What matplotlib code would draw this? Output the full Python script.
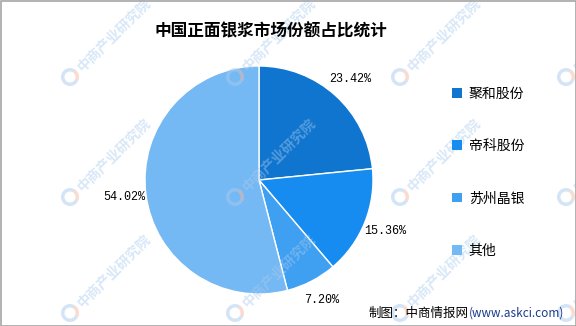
import matplotlib
matplotlib.use("Agg")
import matplotlib.pyplot as plt
from matplotlib.patches import Rectangle, Patch, Wedge

plt.rcParams['font.family'] = ['Noto Sans CJK SC', 'DejaVu Sans']

title = "中国正面银浆市场份额占比统计"
categories = ["聚和股份", "帝科股份", "苏州晶银", "其他"]
shares = [23.42, 15.36, 7.20, 54.02]
colors = ["#1075cf", "#168cf0", "#3f9ff1", "#74b8f4"]
source_cn = "制图：中商情报网"
source_url = "(www.askci.com)"
watermark = "中商产业研究院"

W, H = 576, 326
fig = plt.figure(figsize=(W / 100, H / 100), dpi=100)
fig.patch.set_facecolor("white")

# pie axes: center (259,180) radius 114 px
cx, cy, r = 259, 180, 114
ax = fig.add_axes([(cx - r) / W, (H - cy - r) / H, 2 * r / W, 2 * r / H])
wedges, texts = ax.pie(shares, colors=colors, startangle=90, counterclock=False,
                       radius=1.0, labels=[f"{v:.2f}%" for v in shares],
                       labeldistance=1.19,
                       wedgeprops=dict(edgecolor="white", linewidth=1.0),
                       textprops=dict(family="Liberation Mono", fontsize=8.5, color="black"))
for t in texts:
    t.set_ha("center")
    t.set_va("center")
ax.set_xlim(-1, 1)
ax.set_ylim(-1, 1)
ax.set_aspect("equal")
ax.axis("off")

# watermarks (faint overlay with small logo ring)
for wy in (77, 197, 313):
    for wx in (-95, 70, 235, 400, 566):
        fig.text((wx + 10) / W, 1 - (wy - 8) / H, watermark, rotation=45, rotation_mode="anchor",
                 ha="left", va="center", fontsize=10, fontweight="bold",
                 color="#a8cbee", alpha=0.45, zorder=5)
        fig.patches.append(Wedge((wx, H - wy), 9, 60, 330, width=3.5,
                                 transform=None, facecolor="#a8cbee", edgecolor="none",
                                 alpha=0.5, zorder=5))
        fig.patches.append(Wedge((wx, H - wy), 9, 330, 60, width=3.5,
                                 transform=None, facecolor="#f3b9a6", edgecolor="none",
                                 alpha=0.5, zorder=5))

fig.text(271 / W, 1 - 31 / H, title, ha="center", va="center", fontsize=12,
         fontweight="bold", color="black", zorder=6)

handles = [Patch(facecolor=c, edgecolor="none") for c in colors]
leg = fig.legend(handles, categories, loc="upper left", bbox_to_anchor=(452 / W, 1 - 87 / H),
                 frameon=False, fontsize=10, handlelength=0.7, handleheight=0.7,
                 handletextpad=0.5, labelspacing=2.75, borderpad=0, borderaxespad=0)

# source text
url = fig.text(564 / W, 1 - 313 / H, source_url, ha="right", va="center",
               fontsize=8.5, color="#1a3b8c", zorder=6)
fig.canvas.draw()
bb = url.get_window_extent()
fig.text(bb.x0 / W, 1 - 313 / H, source_cn, ha="right", va="center",
         fontsize=9, color="black", zorder=6)

fig.patches.append(Rectangle((0.5 / W, 0.5 / H), 1 - 1 / W, 1 - 1 / H,
                             transform=fig.transFigure, fill=False,
                             edgecolor="#a6a6a6", linewidth=1.2, zorder=7))

fig.savefig("out.png", dpi=100)
